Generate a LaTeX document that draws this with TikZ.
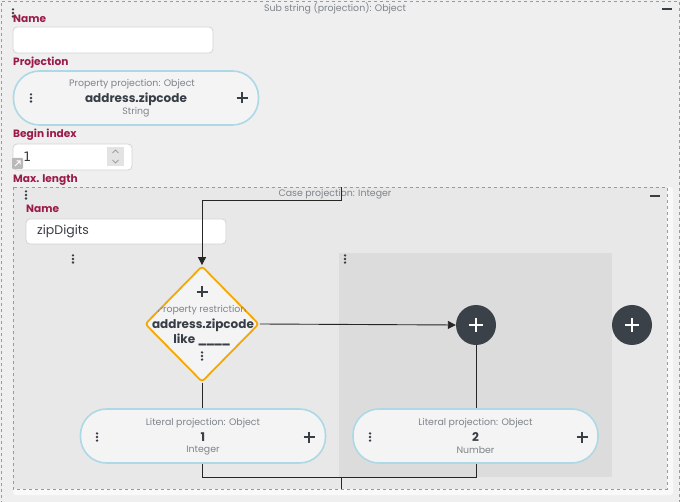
\documentclass[tikz,border=0pt]{standalone}
\usepackage{fontspec}
\setmainfont{Poppins}
\setmonofont{DejaVu Sans Mono}
\usetikzlibrary{shapes.geometric,arrows.meta}
\definecolor{bgc}{HTML}{EFEFEF}
\definecolor{innerc}{HTML}{E8E8E8}
\definecolor{colc}{HTML}{DCDCDC}
\definecolor{lblc}{HTML}{9B1B4B}
\definecolor{gtext}{HTML}{7D848B}
\definecolor{dtext}{HTML}{383E46}
\definecolor{pillb}{HTML}{ADD8E6}
\definecolor{pillf}{HTML}{F4F4F4}
\definecolor{orangec}{HTML}{F5A800}
\definecolor{circc}{HTML}{3A4149}
\definecolor{dashc}{HTML}{9A9A9A}
\definecolor{fieldb}{HTML}{D4D4D4}
\tikzset{
  fieldlabel/.style={anchor=west, text=lblc, font=\fontsize{10.6}{12}\selectfont\bfseries, inner sep=0pt},
  boxtitle/.style={text=gtext, font=\fontsize{9.4}{11}\selectfont, inner sep=0pt},
  fieldbox/.style={draw=fieldb, fill=white, rounded corners=4pt, line width=0.8pt, inner sep=0pt},
  pillbox/.style={draw=pillb, fill=pillf, line width=1.6pt, rounded corners=26pt, minimum width=245pt, minimum height=54pt, inner sep=0pt},
  smallgray/.style={text=gtext, font=\fontsize{9.4}{11}\selectfont, inner sep=0pt},
  bigdark/.style={text=dtext, font=\fontsize{12}{14}\selectfont\bfseries, inner sep=0pt},
  plusbtn/.style={circle, fill=circc, minimum size=40pt, inner sep=0pt},
  conn/.style={draw=black!85, line width=0.9pt},
  arr/.style={conn, -{Triangle[length=8pt,width=8pt]}},
  kebab/.pic={\foreach \d in {-3.6,0,3.6} \fill[dtext] (0,\d) circle (1.35pt);},
  plussign/.pic={\draw[dtext,line width=1.6pt] (-5.5,0)--(5.5,0) (0,-5.5)--(0,5.5);},
  wplus/.pic={\draw[white,line width=2.6pt] (-7,0)--(7,0) (0,-7)--(0,7);},
  minussign/.pic={\draw[dtext,line width=1.8pt] (-5,0)--(5,0);}
}
\begin{document}
\begin{tikzpicture}[x=1pt,y=-1pt]
\useasboundingbox (0,0) rectangle (680,502);
\fill[bgc] (0,0) rectangle (680,502);
% outer dashed box
\draw[dashc, dashed, line width=0.8pt] (1,510) -- (1,1) -- (679,1) -- (679,510);
\node[boxtitle] (outtitle) at (335,8) {Sub string (projection): Object};
\pic at (667,9) {minussign};
\pic at (13,13) {kebab};

% Name field
\node[fieldlabel] (lname) at (13,19) {Name};
\node[fieldbox, minimum width=200pt, minimum height=26pt] (fname) at (113,40) {};

% Projection
\node[fieldlabel] (lproj) at (13,63) {Projection};
\node[pillbox] (pproj) at (136,98) {};
\node[smallgray] (pprojt) at (132,84) {Property projection: Object};
\node[bigdark] (pprojm) at (136,99) {address.zipcode};
\node[smallgray] (pprojs) at (136,112) {String};
\pic at (31,98) {kebab};
\pic at (242,98) {plussign};

% Begin index
\node[fieldlabel] (lbegin) at (13,135) {Begin index};
\node[fieldbox, minimum width=119pt, minimum height=26pt] (fbegin) at (72.5,157) {};
\node[anchor=west, inner sep=0pt, text=dtext, font=\fontsize{13}{15}\selectfont\ttfamily] (vbegin) at (23,157) {1};
\fill[gray!22] (107,147) rectangle (124,166);
\draw[gtext, line width=0.7pt] (112.5,153) -- (115.5,150) -- (118.5,153);
\draw[gtext, line width=0.7pt] (112.5,160) -- (115.5,163) -- (118.5,160);
\fill[gray!55, rounded corners=1pt] (12,158) rectangle (23,169);
\draw[white, line width=1pt] (15,166) -- (20,161) (16.5,161) -- (20,161) -- (20,164.5);

% Max length
\node[fieldlabel] (lmax) at (13,180) {Max. length};

% inner (case projection) box
\fill[white!60!bgc, rounded corners=3pt] (13,187) rectangle (673,495);
\fill[innerc] (13,187) rectangle (667,489);
\draw[dashc, dashed, line width=0.8pt] (13,187) rectangle (667,489);
\node[boxtitle] (intitle) at (335,194) {Case projection: Integer};
\pic at (655,196) {minussign};
\pic at (26,195) {kebab};
\node[fieldlabel] (lname2) at (26,209) {Name};
\node[fieldbox, minimum width=200pt, minimum height=25pt] (fname2) at (126,231.5) {};
\node[anchor=west, inner sep=0pt, text=dtext, font=\fontsize{12.5}{14}\selectfont] (vname2) at (37,231) {zipDigits};
\pic at (73,259) {kebab};

% right column
\fill[colc] (339,253) rectangle (612,477);
\pic at (345,259) {kebab};

% diamond
\node[diamond, draw=orangec, fill=pillf, line width=1.8pt, rounded corners=3pt, minimum width=114pt, minimum height=116pt, inner sep=0pt] (dia) at (202,324) {};
\begin{scope}
\clip (dia.north) -- (dia.east) -- (dia.south) -- (dia.west) -- cycle;
\node[smallgray] (diat) at (202,310) {Property restriction};
\end{scope}
\pic at (202,292) {plussign};
\node[bigdark] (diam) at (203,325) {address.zipcode};
\node[bigdark] (dial) at (202,340) {like \_\kern-1.5pt\_\kern-1.5pt\_\kern-1.5pt\_};
\pic at (202,356) {kebab};

% plus buttons
\node[plusbtn] (pb1) at (476,325) {};
\pic at (476,325) {wplus};
\node[plusbtn] (pb2) at (632,325) {};
\pic at (632,325) {wplus};

% literal pills
\node[pillbox] (lit1) at (203,436) {};
\node[smallgray] (lit1t) at (203,423) {Literal projection: Object};
\node[bigdark] (lit1m) at (203,437) {1};
\node[smallgray] (lit1s) at (203,450) {Integer};
\pic at (97,437) {kebab};
\pic at (309,437) {plussign};

\node[pillbox] (lit2) at (475.5,436) {};
\node[smallgray] (lit2t) at (475.5,423) {Literal projection: Object};
\node[bigdark] (lit2m) at (475.5,437) {2};
\node[smallgray] (lit2s) at (475.5,450) {Number};
\pic at (370,437) {kebab};
\pic at (582,437) {plussign};

% connectors
\coordinate (cin) at (341,187);
\coordinate (cout) at (341,489);
\draw[arr] (cin) -- (341,200) -| (dia.north);
\draw[arr] (dia.east) -- (pb1.west);
\draw[conn] (pb1.south) -- (pb1.south |- lit2.north);
\draw[conn] (dia.south) -- (dia.south |- lit1.north);
\draw[conn] (lit1.south -| dia.south) -- (202,477) -| (lit2.south -| pb1.south);
\draw[conn] (341,477) -- (cout);
\end{tikzpicture}
\end{document}
